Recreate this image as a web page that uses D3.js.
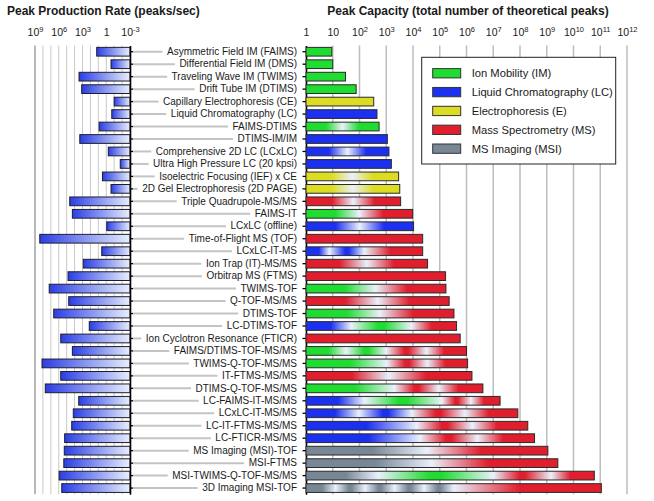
<!DOCTYPE html>
<html><head><meta charset="utf-8">
<script src="https://cdn.jsdelivr.net/npm/d3@7"></script>
<style>body{margin:0;background:#fff} svg text{font-family:"Liberation Sans",Arial,Helvetica,sans-serif;fill:#1a1a1a}</style>
</head><body><svg id="c" width="654" height="501"></svg>
<script>
const methods = ["Asymmetric Field IM (FAIMS)","Differential Field IM (DMS)","Traveling Wave IM (TWIMS)","Drift Tube IM (DTIMS)","Capillary Electrophoresis (CE)","Liquid Chromatography (LC)","FAIMS-DTIMS","DTIMS-IM/IM","Comprehensive 2D LC (LCxLC)","Ultra High Pressure LC (20 kpsi)","Isoelectric Focusing (IEF) x CE","2D Gel Electrophoresis (2D PAGE)","Triple Quadrupole-MS/MS","FAIMS-IT","LCxLC (offline)","Time-of-Flight MS (TOF)","LCxLC-IT-MS","Ion Trap (IT)-MS/MS","Orbitrap MS (FTMS)","TWIMS-TOF","Q-TOF-MS/MS","DTIMS-TOF","LC-DTIMS-TOF","Ion Cyclotron Resonance (FTICR)","FAIMS/DTIMS-TOF-MS/MS","TWIMS-Q-TOF-MS/MS","IT-FTMS-MS/MS","DTIMS-Q-TOF-MS/MS","LC-FAIMS-IT-MS/MS","LCxLC-IT-MS/MS","LC-IT-FTMS-MS/MS","LC-FTICR-MS/MS","MS Imaging (MSI)-TOF","MSI-FTMS","MSI-TWIMS-Q-TOF-MS/MS","3D Imaging MSI-TOF"];
const productionRate = [16,0.25,2750,1260,0.1,0.2,8,2200,0.55,0.017,3,0.25,41000,19000,0.87,2.5e8,3.7,790,67000,1.6e7,55000,4.3e6,140,5.6e5,19000,1.3e8,5.6e5,5e7,3000,14500,23000,1.8e5,2e5,2.3e5,9e5,4.2e5];
const peakCapacity = [9.2,10,30,75,340,450,540,1100,1260,1550,2900,3200,3450,9700,10500,23000,23000,35000,165000,170000,225000,340000,425000,580000,1.0e6,1.1e6,1.6e6,4.1e6,1.8e7,8.3e7,1.95e8,3.5e8,1.1e9,2.6e9,6e10,1.1e11];
const composition = ["IM","IM","IM","IM","E","LC","IM IM","LC","LC LC","LC","E E","E E","MS MS","IM MS","LC LC","MS","LC:2 LC:3 MS:5","MS MS","MS","IM MS","MS MS","IM MS","LC:3 IM:4 MS:3","MS","IM IM MS MS","IM:2 MS MS","MS MS","IM:2 MS MS","LC:6 IM:8 MS:3 MS:3","LC LC MS MS","LC:2 MS MS","LC:2 MS MS","MSI MS","MSI MS","MSI:5 IM:8 MS:4 MS:3","MSI MSI MSI MSI MSI MS:5"];
const legendKeys = ["IM","LC","E","MS","MSI"];
const legendLabels = ["Ion Mobility (IM)","Liquid Chromatography (LC)","Electrophoresis (E)","Mass Spectrometry (MS)","MS Imaging (MSI)"];
const leftTickExps = [9,6,3,0,-3];
const rightTickExps = [0,1,2,3,4,5,6,7,8,9,10,11,12];
const leftTitle = "Peak Production Rate (peaks/sec)";
const rightTitle = "Peak Capacity (total number of theoretical peaks)";

const colors = {IM:"#1fdc30", LC:"#1c30f0", E:"#dcdc22", MS:"#e01e2d", MSI:"#788796"};
const WHITE = "#eaf0fc";
const FS = 10.5, LFS = 10, GFS = 11.2;

const svg = d3.select("#c");
const defs = svg.append("defs");
const y = d3.scaleBand().domain(methods).range([45.5,494.3]).paddingInner(0.3).paddingOuter(0.15);
const xL = d3.scaleLog().domain([1e9,1e-3]).range([35,130]);
const xR = d3.scaleLog().domain([1,1e12]).range([306,627]);
const y0 = 45.5, y1 = 494.3;

// grids
const leftGrid = d3.range(9,-3,-1).map(e=>Math.pow(10,e));
svg.append("g").selectAll("line").data(leftGrid).join("line")
  .attr("x1",d=>xL(d)).attr("x2",d=>xL(d)).attr("y1",y0).attr("y2",y1)
  .attr("stroke",(d,i)=>i===0?"#a8a8a8":"#c8c8c8").attr("stroke-width",(d,i)=>i===0?1.6:1);
const rightGrid = d3.range(1,13).map(e=>Math.pow(10,e));
svg.append("g").selectAll("line").data(rightGrid).join("line")
  .attr("x1",d=>xR(d)).attr("x2",d=>xR(d)).attr("y1",y0).attr("y2",y1)
  .attr("stroke","#bdbdbd").attr("stroke-width",1.5);

// titles
svg.append("text").attr("x",7).attr("y",14.5).attr("font-size",12).attr("font-weight","bold").text(leftTitle);
svg.append("text").attr("x",468).attr("y",14.5).attr("text-anchor","middle").attr("font-size",12).attr("font-weight","bold").text(rightTitle);

// tick label axes
function supLabels(sel){
  sel.selectAll(".tick text").text(null).each(function(d){
    const e = Math.round(Math.log10(d));
    const t = d3.select(this);
    if(e===0){ t.append("tspan").text("1"); }
    else if(e===1){ t.append("tspan").text("10"); }
    else { t.append("tspan").text("10"); t.append("tspan").attr("font-size",7.5).attr("dy",-4).text(String(e)); }
  });
}
const axTopL = svg.append("g").attr("transform","translate(0,40)")
  .call(d3.axisTop(xL).tickValues(leftTickExps.map(e=>Math.pow(10,e))).tickSize(0).tickPadding(4).tickFormat(()=>"x"));
axTopL.select(".domain").remove();
axTopL.selectAll("text").attr("font-size",FS).attr("fill","#1a1a1a");
supLabels(axTopL);
const axTopR = svg.append("g").attr("transform","translate(0,40)")
  .call(d3.axisTop(xR).tickValues(rightTickExps.map(e=>Math.pow(10,e))).tickSize(0).tickPadding(4).tickFormat(()=>"x"));
axTopR.select(".domain").remove();
axTopR.selectAll("text").attr("font-size",FS).attr("fill","#1a1a1a");
supLabels(axTopR);

// left bar gradient
const lg = defs.append("linearGradient").attr("id","lg").attr("x1",0).attr("x2",1).attr("y1",0).attr("y2",0);
lg.append("stop").attr("offset",0).attr("stop-color","#2a3ee6");
lg.append("stop").attr("offset",1).attr("stop-color","#e8eefc");

// right bar gradients
function stopsFor(spec){
  const parts = spec.split(" ").map(p=>{const a=p.split(":"); return {k:a[0], w:+(a[1]||1)};});
  const tot = d3.sum(parts,p=>p.w);
  let acc=0; parts.forEach(p=>{p.s=acc/tot; acc+=p.w; p.e=acc/tot;});
  const st=[];
  parts.forEach((p,i)=>{
    const r = 0.45*(p.e-p.s);
    if(i>0) st.push([p.s, WHITE]);
    st.push([i>0?p.s+r:p.s, colors[p.k]]);
    st.push([i<parts.length-1?p.e-r:p.e, colors[p.k]]);
  });
  return st;
}
composition.forEach((c,i)=>{
  const g = defs.append("linearGradient").attr("id","rg"+i).attr("x1",0).attr("x2",1).attr("y1",0).attr("y2",0);
  stopsFor(c).forEach(s=>g.append("stop").attr("offset",s[0]).attr("stop-color",s[1]));
});

const rows = methods.map((m,i)=>({m,i,rate:productionRate[i],cap:peakCapacity[i]}));

// left bars
svg.append("g").selectAll("rect").data(rows).join("rect")
  .attr("x",d=>xL(d.rate)).attr("width",d=>xL(1e-3)-xL(d.rate))
  .attr("y",d=>y(d.m)).attr("height",y.bandwidth())
  .attr("fill","url(#lg)").attr("stroke","#1e1e2a").attr("stroke-width",1);

// right axis with labels
const axR = svg.append("g").attr("transform","translate(306,0)")
  .call(d3.axisLeft(y).tickSize(3.5).tickSizeOuter(0).tickPadding(5.5));
axR.selectAll("text").attr("font-size",LFS).attr("fill","#1a1a1a");
axR.select(".domain").attr("stroke","#000").attr("stroke-width",1.6);
axR.selectAll(".tick line").attr("stroke","#000").attr("stroke-width",1.3);

// leader lines
const lens = {};
axR.selectAll(".tick text").each(function(d){ lens[d]=this.getComputedTextLength(); });
svg.append("g").selectAll("line").data(rows).join("line")
  .attr("x1",133).attr("x2",d=>306-9-lens[d.m]-4.5)
  .attr("y1",d=>y(d.m)+y.bandwidth()/2).attr("y2",d=>y(d.m)+y.bandwidth()/2)
  .attr("stroke","#c4c4c4").attr("stroke-width",2);

// left axis
const axL = svg.append("g").attr("transform","translate(130,0)")
  .call(d3.axisRight(y).tickSize(3).tickSizeOuter(0).tickFormat(()=>""));
axL.select(".domain").attr("stroke","#000").attr("stroke-width",1.6);
axL.selectAll(".tick line").attr("stroke","#000").attr("stroke-width",1.3);

// right bars
svg.append("g").selectAll("rect").data(rows).join("rect")
  .attr("x",xR(1)).attr("width",d=>xR(d.cap)-xR(1))
  .attr("y",d=>y(d.m)).attr("height",y.bandwidth())
  .attr("fill",d=>"url(#rg"+d.i+")").attr("stroke","#2a2a2a").attr("stroke-width",1);

// legend
const lgd = svg.append("g");
lgd.append("rect").attr("x",421.7).attr("y",57.3).attr("width",194).attr("height",106.7)
  .attr("fill","#fff").attr("stroke","#222").attr("stroke-width",1);
const ly = d3.scalePoint().domain(legendKeys).range([73.3,148.7]);
const li = lgd.selectAll("g").data(legendKeys).join("g").attr("transform",d=>`translate(0,${ly(d)})`);
li.append("rect").attr("x",432.7).attr("y",-4.7).attr("width",28).attr("height",9.3)
  .attr("fill",d=>colors[d]).attr("stroke","#333").attr("stroke-width",1);
li.append("text").attr("x",471.7).attr("y",4).attr("font-size",GFS).text((d,i)=>legendLabels[i]);
</script></body></html>
